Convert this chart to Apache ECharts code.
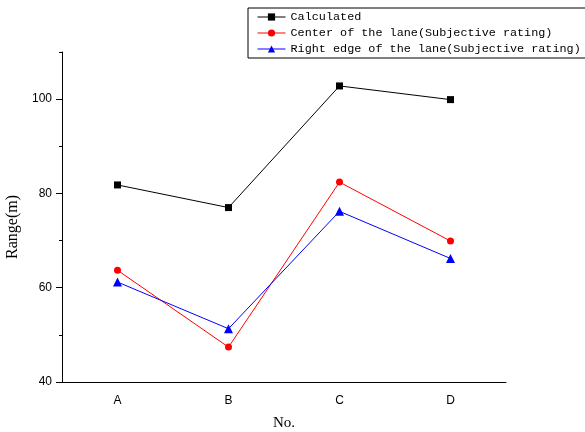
<!DOCTYPE html>
<html>
<head>
<meta charset="utf-8">
<script src="https://cdn.jsdelivr.net/npm/echarts@6/dist/echarts.min.js"></script>
<style>
  html, body { margin: 0; padding: 0; background: #fff; }
  #chart { width: 585px; height: 432px; }
</style>
</head>
<body>
<div id="chart"></div>
<script>
// 数据
const categories = ['A', 'B', 'C', 'D']
const calculated = [81.8, 77.0, 102.8, 99.9]
const centerLane = [63.7, 47.4, 82.4, 69.9]
const rightEdge = [61.2, 51.3, 76.2, 66.2]
const yMajorTicks = [40, 60, 80, 100]
const yMinorTicks = [50, 70, 90, 110]

const seriesNames = [
  'Calculated',
  'Center of the lane(Subjective rating)',
  'Right edge of the lane(Subjective rating)'
]

const chart = echarts.init(document.getElementById('chart'))

const makeSeries = (name, data, color, symbol, size) => ({
  name,
  type: 'line',
  data,
  xAxisIndex: 0,
  yAxisIndex: 0,
  symbol,
  symbolSize: size,
  color,
  lineStyle: { color, width: 1 },
  itemStyle: { color },
  emphasis: { disabled: true },
  z: 3
})

const option = {
  animation: false,
  grid: {
    left: 62,
    right: 79,
    top: 52,
    bottom: 50,
    outerBoundsMode: 'none'
  },
  legend: {
    orient: 'vertical',
    left: 248,
    top: 8,
    data: seriesNames,
    backgroundColor: '#fff',
    borderColor: '#000',
    borderWidth: 1,
    borderRadius: 0,
    padding: [1, 10, 1, 9],
    itemWidth: 28,
    itemHeight: 9,
    itemGap: 0,
    lineStyle: { width: 1 },
    textStyle: {
      fontFamily: '"Liberation Mono", "DejaVu Sans Mono", monospace',
      fontSize: 11.8,
      lineHeight: 16,
      color: '#000'
    }
  },
  xAxis: [
    {
      type: 'category',
      data: categories,
      boundaryGap: true,
      name: 'No.',
      nameLocation: 'middle',
      nameGap: 34,
      nameTextStyle: {
        fontFamily: '"Liberation Serif", serif',
        fontSize: 15,
        color: '#000'
      },
      axisLine: { lineStyle: { color: '#000', width: 1 } },
      axisTick: { alignWithLabel: true, length: 6, lineStyle: { color: '#000' } },
      axisLabel: {
        margin: 13,
        fontFamily: '"Liberation Sans", Arial, sans-serif',
        fontSize: 12,
        color: '#000'
      },
      splitLine: { show: false }
    },
    {
      // 分隔刻度（短）
      type: 'category',
      data: categories,
      boundaryGap: true,
      position: 'bottom',
      axisLine: { show: false },
      axisTick: { length: 3, lineStyle: { color: '#000' } },
      axisLabel: { show: false },
      splitLine: { show: false }
    }
  ],
  yAxis: [
    {
      type: 'value',
      min: 40,
      max: 110,
      interval: 10,
      name: 'Range(m)',
      nameLocation: 'middle',
      nameGap: 36,
      nameTextStyle: {
        fontFamily: '"Liberation Serif", serif',
        fontSize: 16,
        color: '#000',
        padding: [0, 20, 0, 0]
      },
      axisLine: { show: true, lineStyle: { color: '#000', width: 1 } },
      axisTick: { show: true, length: 6, customValues: yMajorTicks, lineStyle: { color: '#000' } },
      axisLabel: {
        customValues: yMajorTicks,
        margin: 10,
        fontFamily: '"Liberation Sans", Arial, sans-serif',
        fontSize: 12,
        color: '#000'
      },
      splitLine: { show: false }
    },
    {
      // 次刻度
      type: 'value',
      min: 40,
      max: 110,
      interval: 10,
      position: 'left',
      axisLine: { show: false },
      axisTick: { show: true, length: 3, customValues: yMinorTicks, lineStyle: { color: '#000' } },
      axisLabel: { show: false },
      splitLine: { show: false }
    }
  ],
  series: [
    makeSeries(seriesNames[0], calculated, '#000000', 'rect', 7),
    makeSeries(seriesNames[1], centerLane, '#ff0000', 'circle', 7),
    makeSeries(seriesNames[2], rightEdge, '#0000ff', 'triangle', 9)
  ]
}

chart.setOption(option)
</script>
</body>
</html>
